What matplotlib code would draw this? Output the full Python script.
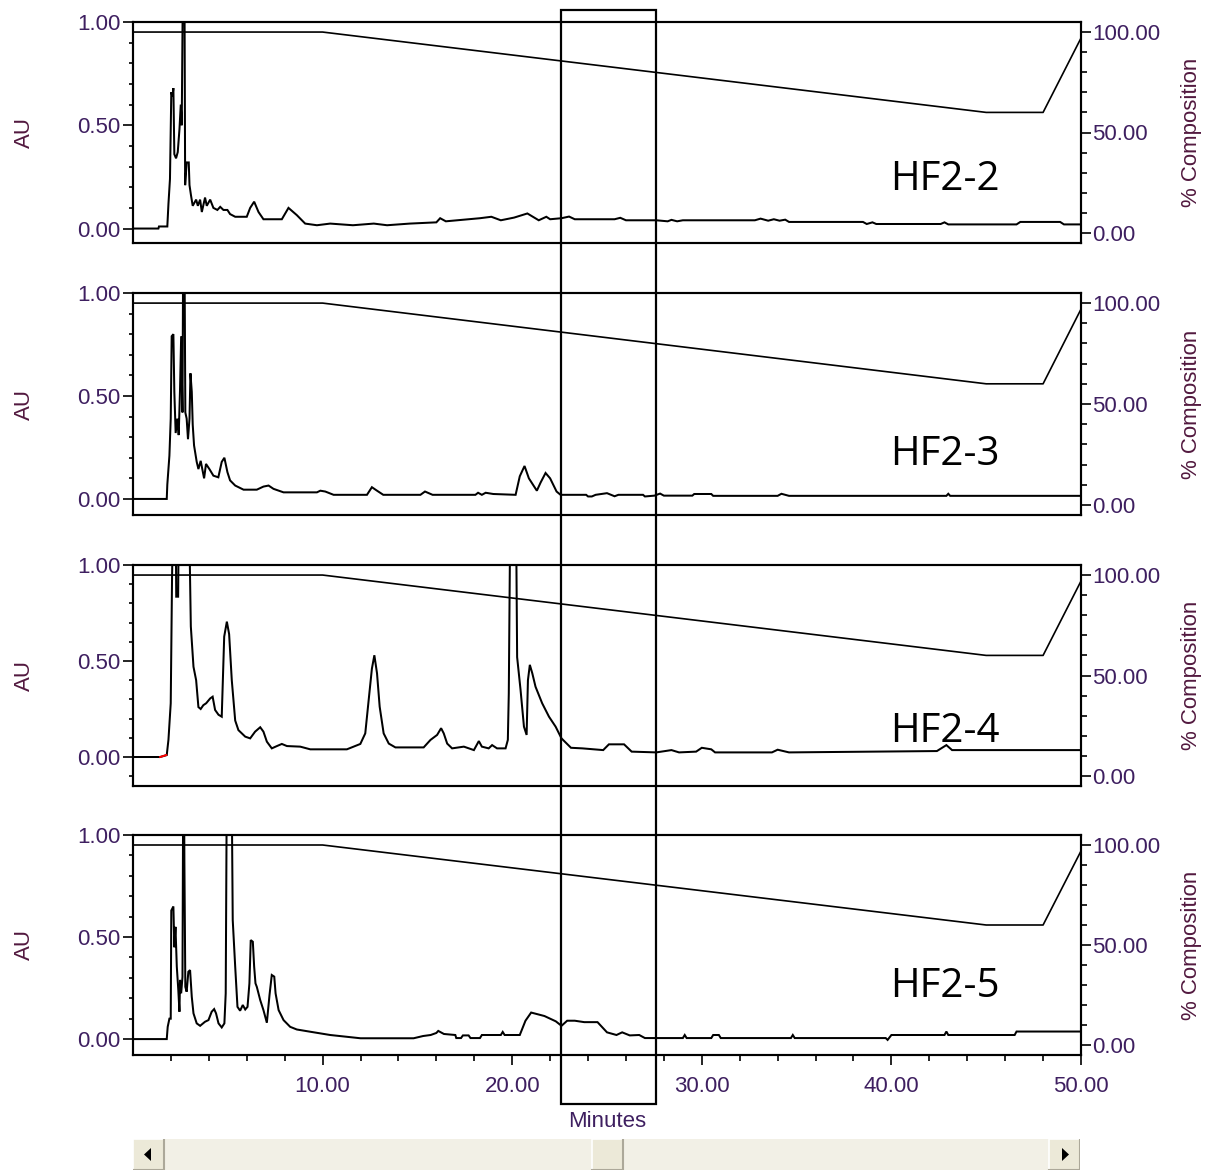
import matplotlib
matplotlib.use("Agg")
import matplotlib.pyplot as plt
from matplotlib.patches import Rectangle, Polygon
from matplotlib.ticker import FixedLocator, MultipleLocator, FormatStrFormatter
import matplotlib.transforms as mtransforms

# solvent gradient (% composition), same for all four runs
grad_t = [0, 10, 45, 48, 50]
grad_pct = [100, 100, 60, 60, 97]

samples = ["HF2-2", "HF2-3", "HF2-4", "HF2-5"]

hf22_t = [0, 1.34, 1.37, 1.81, 1.87, 1.95, 2.02, 2.08, 2.13, 2.18, 2.27, 2.36, 2.45, 2.52, 2.57, 2.64, 2.71,
          2.75, 2.83, 2.94, 2.98, 3.06, 3.15, 3.33, 3.42, 3.54, 3.63, 3.80, 3.89, 4.07, 4.24, 4.45, 4.60, 4.77,
          4.98, 5.12, 5.39, 6.0, 6.18, 6.39, 6.62, 6.88, 7.85, 8.2, 8.64, 9.08, 9.7, 10.4, 11.6, 12.7, 13.4,
          14.6, 16.0, 16.2, 16.5, 18.3, 18.9, 19.4, 20.1, 20.8, 21.4, 21.8, 22.0, 22.6, 23.0, 23.3, 25.4, 25.7,
          26.0, 27.6, 28.2, 28.4, 28.7, 29.0, 32.8, 33.1, 33.5, 33.8, 34.1, 34.4, 34.6, 38.5, 38.7, 39.0, 39.2,
          42.6, 42.8, 43.0, 46.6, 46.8, 48.9, 49.1, 50]
hf22_au = [0, 0, 0.01, 0.01, 0.12, 0.24, 0.66, 0.64, 0.68, 0.36, 0.34, 0.37, 0.48, 0.60, 0.50, 1.3, 1.3,
           0.21, 0.32, 0.32, 0.21, 0.16, 0.11, 0.14, 0.11, 0.14, 0.08, 0.15, 0.11, 0.14, 0.10, 0.09, 0.105, 0.09,
           0.09, 0.07, 0.057, 0.057, 0.10, 0.13, 0.08, 0.045, 0.045, 0.10, 0.065, 0.024, 0.016, 0.024, 0.016,
           0.024, 0.016, 0.024, 0.03, 0.05, 0.035, 0.05, 0.057, 0.04, 0.053, 0.073, 0.04, 0.057, 0.045, 0.05,
           0.058, 0.045, 0.045, 0.052, 0.04, 0.04, 0.035, 0.042, 0.035, 0.04, 0.04, 0.048, 0.038, 0.045, 0.038,
           0.043, 0.032, 0.032, 0.022, 0.03, 0.022, 0.022, 0.03, 0.02, 0.02, 0.032, 0.032, 0.02, 0.02]

hf23_t = [0, 1.78, 1.81, 1.92, 1.99, 2.04, 2.13, 2.18, 2.25, 2.34, 2.41, 2.48, 2.54, 2.61, 2.65, 2.71, 2.76,
          2.83, 2.90, 2.98, 3.03, 3.10, 3.15, 3.22, 3.36, 3.45, 3.57, 3.75, 3.85, 4.03, 4.24, 4.5, 4.68, 4.82,
          4.98, 5.12, 5.39, 5.83, 6.53, 6.88, 7.15, 7.41, 7.94, 9.7, 9.88, 10.14, 10.58, 12.34, 12.6, 12.87,
          13.2, 15.16, 15.4, 15.8, 18.06, 18.2, 18.4, 18.6, 19.0, 20.18, 20.4, 20.65, 20.88, 21.3, 21.5, 21.76,
          22.0, 22.34, 22.55, 23.9, 24.0, 24.2, 24.4, 25.0, 25.4, 25.6, 26.9, 27.0, 27.5, 27.8, 28.0, 29.5, 29.6,
          30.5, 30.6, 34.0, 34.2, 34.6, 42.9, 43.0, 43.1, 50]
hf23_au = [0, 0, 0.07, 0.21, 0.39, 0.79, 0.80, 0.52, 0.32, 0.39, 0.31, 0.53, 0.79, 0.42, 1.3, 1.3, 0.42,
           0.39, 0.29, 0.39, 0.61, 0.52, 0.36, 0.26, 0.18, 0.145, 0.185, 0.10, 0.17, 0.145, 0.113, 0.105, 0.18,
           0.20, 0.13, 0.09, 0.065, 0.045, 0.045, 0.06, 0.065, 0.049, 0.032, 0.032, 0.04, 0.036, 0.02, 0.02,
           0.057, 0.04, 0.02, 0.02, 0.036, 0.02, 0.02, 0.03, 0.02, 0.03, 0.024, 0.02, 0.11, 0.16, 0.10, 0.04,
           0.08, 0.126, 0.10, 0.036, 0.02, 0.02, 0.012, 0.012, 0.02, 0.028, 0.013, 0.02, 0.02, 0.012, 0.016,
           0.026, 0.016, 0.016, 0.024, 0.024, 0.015, 0.015, 0.025, 0.015, 0.015, 0.025, 0.015, 0.015]

hf24_t = [0, 1.43, 1.78, 1.87, 1.99, 2.06, 2.12, 2.25, 2.28, 2.38, 2.42, 2.95, 3.05, 3.19, 3.33, 3.45, 3.57,
          3.71, 3.86, 4.07, 4.2, 4.33, 4.51, 4.68, 4.81, 4.95, 5.07, 5.21, 5.39, 5.56, 5.92, 6.18, 6.44, 6.71,
          6.88, 7.06, 7.32, 7.59, 7.85, 8.12, 8.82, 9.35, 11.28, 11.99, 12.25, 12.43, 12.6, 12.73, 12.87, 13.01,
          13.22, 13.49, 13.84, 15.33, 15.69, 16.04, 16.25, 16.39, 16.57, 16.83, 17.45, 17.98, 18.24, 18.4,
          18.76, 18.94, 19.2, 19.65, 19.77, 19.82, 19.9, 20.2, 20.26, 20.44, 20.62, 20.76, 20.83, 20.93, 21.06,
          21.23, 21.58, 21.94, 22.29, 22.6, 23.1, 23.7, 24.8, 25.1, 25.9, 26.3, 27.6, 28.4, 28.8, 29.7, 30.0,
          30.5, 30.7, 33.7, 34.0, 34.6, 42.4, 42.9, 43.2, 50]
hf24_au = [0, 0, 0.01, 0.09, 0.28, 0.94, 1.3, 1.3, 0.835, 0.835, 1.3, 1.3, 0.68, 0.47, 0.40, 0.26, 0.25,
           0.27, 0.28, 0.305, 0.314, 0.245, 0.22, 0.21, 0.627, 0.705, 0.64, 0.40, 0.19, 0.14, 0.106, 0.097,
           0.132, 0.155, 0.132, 0.08, 0.045, 0.057, 0.068, 0.057, 0.054, 0.04, 0.04, 0.068, 0.123, 0.297, 0.46,
           0.53, 0.436, 0.262, 0.123, 0.07, 0.05, 0.05, 0.089, 0.115, 0.15, 0.123, 0.07, 0.045, 0.054, 0.036,
           0.083, 0.054, 0.045, 0.062, 0.045, 0.045, 0.089, 0.33, 1.3, 1.3, 0.52, 0.35, 0.158, 0.115, 0.40,
           0.48, 0.436, 0.366, 0.28, 0.21, 0.158, 0.097, 0.048, 0.045, 0.036, 0.066, 0.066, 0.028, 0.024,
           0.036, 0.024, 0.028, 0.048, 0.04, 0.024, 0.024, 0.038, 0.024, 0.031, 0.062, 0.036, 0.036]

hf25_t = [0, 1.78, 1.83, 1.92, 1.99, 2.02, 2.13, 2.18, 2.24, 2.31, 2.39, 2.45, 2.48, 2.54, 2.61, 2.65, 2.69,
          2.71, 2.76, 2.83, 2.92, 3.01, 3.10, 3.19, 3.36, 3.54, 3.80, 3.98, 4.15, 4.28, 4.38, 4.51, 4.68, 4.82,
          4.89, 4.95, 5.2, 5.26, 5.39, 5.51, 5.65, 5.79, 5.92, 6.04, 6.14, 6.21, 6.32, 6.39, 6.46, 6.53, 6.71,
          6.88, 7.06, 7.2, 7.32, 7.45, 7.52, 7.68, 7.94, 8.29, 8.64, 9.35, 10.4, 12.0, 14.8, 15.3, 15.7, 16.0,
          16.1, 16.4, 17.0, 17.05, 17.3, 17.4, 17.7, 17.8, 18.3, 18.4, 19.4, 19.5, 19.6, 20.4, 20.7, 21.0, 21.7,
          22.3, 22.6, 22.9, 23.3, 23.8, 24.5, 25.0, 25.5, 25.8, 26.2, 26.7, 27.0, 29.0, 29.1, 29.2, 30.5, 30.6,
          30.9, 31.0, 34.7, 34.8, 34.9, 39.7, 39.8, 40.0, 42.8, 42.9, 43.0, 46.5, 46.6, 50]
hf25_au = [0, 0, 0.06, 0.10, 0.10, 0.63, 0.65, 0.45, 0.55, 0.355, 0.24, 0.134, 0.29, 0.224, 0.305, 1.3, 1.3,
           0.877, 0.256, 0.232, 0.33, 0.338, 0.207, 0.126, 0.077, 0.065, 0.085, 0.093, 0.134, 0.147, 0.126,
           0.077, 0.057, 0.077, 0.224, 1.3, 1.3, 0.583, 0.355, 0.158, 0.139, 0.167, 0.145, 0.158, 0.273, 0.485,
           0.477, 0.355, 0.273, 0.256, 0.191, 0.142, 0.08, 0.216, 0.314, 0.306, 0.224, 0.142, 0.093, 0.06,
           0.047, 0.036, 0.02, 0.004, 0.004, 0.015, 0.02, 0.03, 0.04, 0.025, 0.02, 0.005, 0.005, 0.018, 0.018,
           0.005, 0.005, 0.02, 0.02, 0.035, 0.02, 0.02, 0.09, 0.13, 0.113, 0.087, 0.065, 0.09, 0.09, 0.083,
           0.083, 0.033, 0.02, 0.033, 0.018, 0.02, 0.005, 0.005, 0.02, 0.005, 0.005, 0.02, 0.02, 0.005, 0.005,
           0.02, 0.005, 0.005, -0.004, 0.02, 0.02, 0.037, 0.02, 0.02, 0.037, 0.037]

# small red integration mark at the start of HF2-4
red_t = [1.43, 1.75]
red_au = [0, 0.01]

# highlighted time window
box_t = [22.6, 27.6]

traces = [(hf22_t, hf22_au), (hf23_t, hf23_au), (hf24_t, hf24_au), (hf25_t, hf25_au)]

W, H = 1205, 1172
fig = plt.figure(figsize=(W / 100, H / 100), dpi=100)

tick_col = "#3e1f60"
lab_col = "#52193f"
tick_font = "Liberation Sans"

# panel top / bottom in pixels, AU value at bottom edge
panels = [(22, 243, -0.070), (293, 515, -0.078), (565, 786, -0.151), (835, 1055, -0.078)]
label_y = [0.285, 0.27, 0.244, 0.31]
x0, x1 = 133, 1081

axes = []
for i, (top, bot, ybot) in enumerate(panels):
    ax = fig.add_axes([x0 / W, 1 - bot / H, (x1 - x0) / W, (bot - top) / H])
    t, au = traces[i]
    ax.plot(t, au, color="black", lw=1.45, solid_joinstyle="miter")
    if i == 2:
        ax.plot(red_t, red_au, color="red", lw=1.4)
    ax.set_xlim(0, 50)
    ax.set_ylim(ybot, 1.0)
    ax.yaxis.set_major_locator(FixedLocator([0, 0.5, 1.0]))
    ax.yaxis.set_minor_locator(MultipleLocator(0.1))
    ax.yaxis.set_major_formatter(FormatStrFormatter("%.2f"))
    ax.tick_params(axis="y", which="major", length=7, width=1.2, direction="out",
                   labelsize=16, labelcolor=tick_col, pad=2)
    ax.tick_params(axis="y", which="minor", length=3, width=1.2, direction="out")
    for s in ax.spines.values():
        s.set_linewidth(1.5)
    if i < 3:
        ax.set_xticks([])
    else:
        ax.xaxis.set_major_locator(FixedLocator([10, 20, 30, 40, 50]))
        ax.xaxis.set_minor_locator(FixedLocator([v for v in range(2, 50, 2) if v % 10]))
        ax.xaxis.set_major_formatter(FormatStrFormatter("%.2f"))
        ax.tick_params(axis="x", which="major", length=7, width=1.2, labelsize=16,
                       labelcolor=tick_col, pad=8)
        ax.tick_params(axis="x", which="minor", length=4, width=1.2)
        ax.set_xlabel("Minutes", fontsize=16, color=tick_col, labelpad=10, fontname=tick_font)
    for lb in ax.get_yticklabels() + ax.get_xticklabels():
        lb.set_fontname(tick_font)

    ax2 = ax.twinx()
    ax2.plot(grad_t, grad_pct, color="black", lw=1.2)
    ax2.set_ylim(-5, 105)
    ax2.yaxis.set_major_locator(FixedLocator([0, 50, 100]))
    ax2.yaxis.set_minor_locator(MultipleLocator(10))
    ax2.yaxis.set_major_formatter(FormatStrFormatter("%.2f"))
    ax2.tick_params(axis="y", which="major", length=7, width=1.2, labelsize=16,
                    labelcolor=tick_col, pad=1)
    ax2.tick_params(axis="y", which="minor", length=4, width=1.2)
    for lb in ax2.get_yticklabels():
        lb.set_fontname(tick_font)
    for s in ax2.spines.values():
        s.set_linewidth(1.5)

    ax.text(-0.114, 0.5, "AU", transform=ax.transAxes, rotation=90, ha="center", va="center",
            fontsize=16, color=lab_col, fontname=tick_font)
    ax.text(1.117, 0.5, "% Composition", transform=ax.transAxes, rotation=90, ha="center",
            va="center", fontsize=16, color=lab_col, fontname=tick_font)
    ax2.text(0.7985, label_y[i], samples[i], transform=ax.transAxes, ha="left", va="center",
             fontsize=29, fontname="Open Sans", color="black", zorder=5)
    axes.append(ax)

# rectangle spanning all panels
trans = mtransforms.blended_transform_factory(axes[3].transData, fig.transFigure)
fig.add_artist(Rectangle((box_t[0], 1 - 1104 / H), box_t[1] - box_t[0], 1094 / H,
                         transform=trans, fill=False, lw=1.6, edgecolor="black", zorder=10))

# scrollbar strip under the plot
sb = fig.add_axes([x0 / W, 2 / H, (1080 - x0) / W, 31 / H])
sb.set_xlim(0, 947)
sb.set_ylim(0, 31)
sb.axis("off")
sb.add_patch(Rectangle((0, 0), 947, 31, facecolor="#f2f0e6", edgecolor="none"))


def button(x, w):
    sb.add_patch(Rectangle((x, 0), w, 31, facecolor="#ece9d8", edgecolor="none"))
    sb.plot([x, x, x + w], [0, 31, 31], color="white", lw=1.2)
    sb.plot([x, x + w, x + w], [0, 0, 31], color="#aca899", lw=1.5)


button(0, 31)
button(459, 31)
button(916, 31)
sb.add_patch(Polygon([[11, 15.5], [18, 9], [18, 22]], closed=True, facecolor="black"))
sb.add_patch(Polygon([[936, 15.5], [929, 9], [929, 22]], closed=True, facecolor="black"))

fig.savefig("out.png", dpi=100)
